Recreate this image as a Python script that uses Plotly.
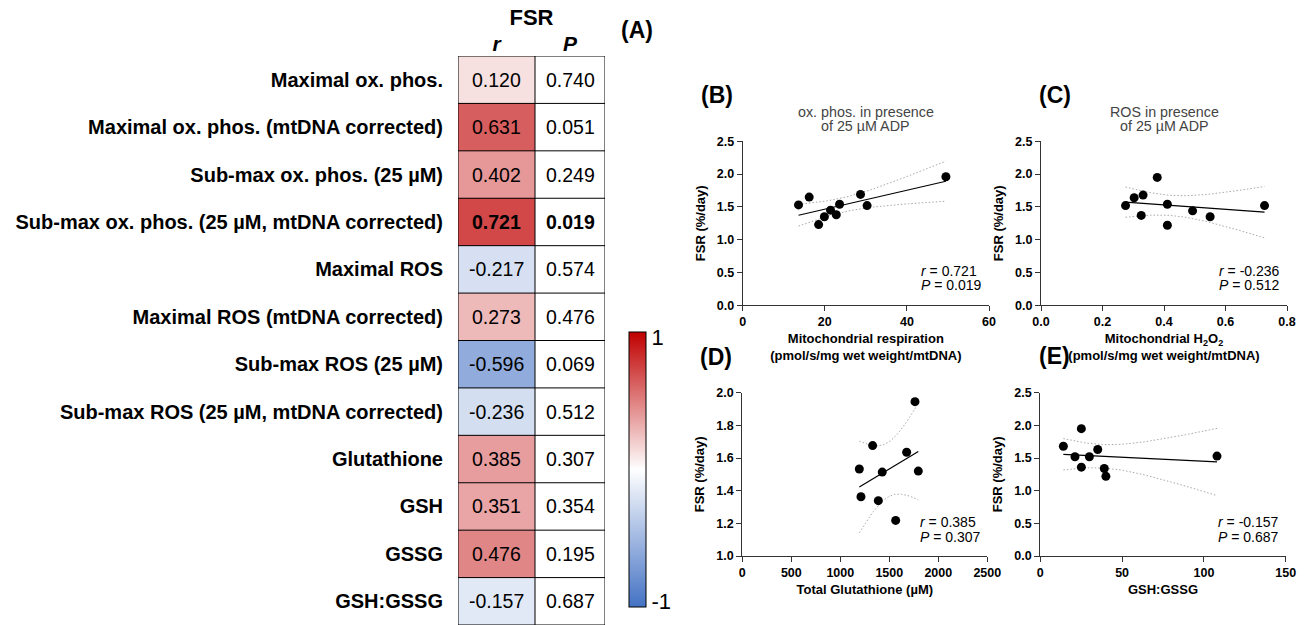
import numpy as np
import plotly.graph_objects as go

# ---------------- data ----------------
row_labels = [
    "Maximal ox. phos.",
    "Maximal ox. phos. (mtDNA corrected)",
    "Sub-max ox. phos. (25 µM)",
    "Sub-max ox. phos. (25 µM, mtDNA corrected)",
    "Maximal ROS",
    "Maximal ROS (mtDNA corrected)",
    "Sub-max ROS (25 µM)",
    "Sub-max ROS (25 µM, mtDNA corrected)",
    "Glutathione",
    "GSH",
    "GSSG",
    "GSH:GSSG",
]
r_values = [0.120, 0.631, 0.402, 0.721, -0.217, 0.273, -0.596, -0.236, 0.385, 0.351, 0.476, -0.157]
p_values = [0.740, 0.051, 0.249, 0.019, 0.574, 0.476, 0.069, 0.512, 0.307, 0.354, 0.195, 0.687]
significant = [False, False, False, True, False, False, False, False, False, False, False, False]

# Panel B: mitochondrial respiration vs FSR
b_x = [13.6, 16.2, 18.5, 19.9, 21.4, 22.8, 23.6, 28.7, 30.3, 49.5]
b_y = [1.53, 1.65, 1.23, 1.35, 1.45, 1.38, 1.54, 1.69, 1.52, 1.96]
# Panel C: mitochondrial H2O2 vs FSR
c_x = [0.275, 0.303, 0.332, 0.326, 0.378, 0.411, 0.411, 0.493, 0.550, 0.727]
c_y = [1.52, 1.64, 1.68, 1.37, 1.95, 1.54, 1.22, 1.44, 1.35, 1.52]
# Panel D: total glutathione vs FSR
d_x = [1194, 1211, 1330, 1388, 1428, 1565, 1677, 1762, 1796]
d_y = [1.533, 1.363, 1.676, 1.339, 1.514, 1.218, 1.635, 1.945, 1.520]
# Panel E: GSH:GSSG vs FSR
e_x = [14.1, 21.2, 25.1, 25.1, 30.0, 35.1, 39.1, 40.1, 108.0]
e_y = [1.68, 1.52, 1.95, 1.36, 1.52, 1.63, 1.34, 1.22, 1.53]

stats_text = {
    "B": ("0.721", "0.019"),
    "C": ("-0.236", "0.512"),
    "D": ("0.385", "0.307"),
    "E": ("-0.157", "0.687"),
}

# two-sided 95% t critical values by degrees of freedom
t_crit = {7: 2.365, 8: 2.306}

FONT = "Liberation Sans, Arial, Helvetica, sans-serif"
W, H = 1309, 625


def px_x(p):
    return p / W


def px_y(p):
    return 1 - p / H


fig = go.Figure()

# ---------------- table (A) ----------------
col_r_w, col_p_w = 77, 70
n_rows = len(row_labels)
y_edges = list(range(n_rows + 1))

fig.add_trace(go.Heatmap(
    z=[[v] for v in r_values], x=[0, col_r_w], y=y_edges,
    zmin=-1, zmax=1,
    colorscale=[[0, "rgb(68,114,196)"], [0.5, "rgb(255,255,255)"], [1, "rgb(192,0,0)"]],
    xaxis="x", yaxis="y", hoverinfo="skip",
    colorbar=dict(
        x=px_x(629), xanchor="left", y=px_y(469.5), yanchor="middle",
        len=275 / H, lenmode="fraction", thickness=17, xpad=0, ypad=0,
        outlinewidth=1, outlinecolor="black",
        tickvals=[-0.96, 0.96], ticktext=["-1", "1"], ticks="",
        tickfont=dict(family=FONT, size=22, color="black"),
    ),
))
fig.add_trace(go.Heatmap(
    z=[[v] for v in p_values], x=[col_r_w, col_r_w + col_p_w], y=y_edges,
    colorscale=[[0, "white"], [1, "white"]], showscale=False,
    xaxis="x", yaxis="y", hoverinfo="skip",
))

shapes = []
for i in range(n_rows + 1):
    shapes.append(dict(type="line", xref="x", yref="y", x0=0, x1=col_r_w + col_p_w, y0=i, y1=i,
                       line=dict(color="black", width=1), layer="above"))
for xv in [0, col_r_w, col_r_w + col_p_w]:
    shapes.append(dict(type="line", xref="x", yref="y", x0=xv, x1=xv, y0=0, y1=n_rows,
                       line=dict(color="black", width=1), layer="above"))

annotations = []
for i, (rv, pv, sig) in enumerate(zip(r_values, p_values, significant)):
    rt = f"{rv:.3f}"
    pt = f"{pv:.3f}"
    if sig:
        rt, pt = f"<b>{rt}</b>", f"<b>{pt}</b>"
    annotations.append(dict(x=col_r_w / 2, y=i + 0.5, xref="x", yref="y", text=rt, showarrow=False,
                            font=dict(family=FONT, size=19.5, color="black")))
    annotations.append(dict(x=col_r_w + col_p_w / 2, y=i + 0.5, xref="x", yref="y", text=pt, showarrow=False,
                            font=dict(family=FONT, size=19.5, color="black")))

fig.update_layout(
    xaxis=dict(domain=[px_x(458), px_x(605)], range=[0, col_r_w + col_p_w], side="top",
               tickvals=[col_r_w / 2, col_r_w + col_p_w / 2],
               ticktext=["<b><i>r</i></b>", "<b><i>P</i></b>"], ticks="",
               tickfont=dict(family=FONT, size=21, color="black"),
               showgrid=False, zeroline=False, showline=False, fixedrange=True, automargin=False,
               title=dict(text="<b>FSR</b>", font=dict(family=FONT, size=22, color="black"), standoff=0)),
    yaxis=dict(domain=[px_y(625), px_y(56)], range=[n_rows, 0],
               tickvals=[i + 0.5 for i in range(n_rows)], ticktext=row_labels, ticks="",
               tickfont=dict(family=FONT, size=20, color="black", weight="bold"),
               ticklabelstandoff=14, automargin=False,
               showgrid=False, zeroline=False, showline=False, fixedrange=True),
)

# ---------------- scatter panels ----------------
panels = [
    dict(key="B", xs=b_x, ys=b_y, ax="2", xdom=(742.7, 989), ydom=(141.3, 305.3),
         xr=[0, 60], xt=[0, 20, 40, 60], xfmt="d", yr=[0, 2.5], yt=[0, 0.5, 1.0, 1.5, 2.0, 2.5],
         xtitle="Mitochondrial respiration<br>(pmol/s/mg wet weight/mtDNA)",
         title=["ox. phos. in presence", "of 25 µM ADP"], lab=(717, 95)),
    dict(key="C", xs=c_x, ys=c_y, ax="3", xdom=(1041, 1287), ydom=(141.3, 305.3),
         xr=[0, 0.8], xt=[0, 0.2, 0.4, 0.6, 0.8], xfmt=".1f", yr=[0, 2.5], yt=[0, 0.5, 1.0, 1.5, 2.0, 2.5],
         xtitle="Mitochondrial H<sub>2</sub>O<sub>2</sub><br>(pmol/s/mg wet weight/mtDNA)",
         title=["ROS in presence", "of 25 µM ADP"], lab=(1055, 95)),
    dict(key="D", xs=d_x, ys=d_y, ax="4", xdom=(742.3, 987.3), ydom=(392.7, 556),
         xr=[0, 2500], xt=[0, 500, 1000, 1500, 2000, 2500], xfmt="d", yr=[1.0, 2.0],
         yt=[1.0, 1.2, 1.4, 1.6, 1.8, 2.0],
         xtitle="Total Glutathione (µM)", title=None, lab=(716, 357)),
    dict(key="E", xs=e_x, ys=e_y, ax="5", xdom=(1040.3, 1285.7), ydom=(392.7, 556),
         xr=[0, 150], xt=[0, 50, 100, 150], xfmt="d", yr=[0, 2.5], yt=[0, 0.5, 1.0, 1.5, 2.0, 2.5],
         xtitle="GSH:GSSG", title=None, lab=(1054, 356)),
]

tick_font = dict(family=FONT, size=12.5, color="black", weight="bold")
title_font = dict(family=FONT, size=13, color="black", weight="bold")

for p in panels:
    xs = np.array(p["xs"], dtype=float)
    ys = np.array(p["ys"], dtype=float)
    n = len(xs)
    slope, intercept = np.polyfit(xs, ys, 1)
    xm = xs.mean()
    sxx = ((xs - xm) ** 2).sum()
    resid = ys - (slope * xs + intercept)
    s = np.sqrt((resid ** 2).sum() / (n - 2))
    xl = np.linspace(xs.min(), xs.max(), 60)
    yl = slope * xl + intercept
    half = t_crit[n - 2] * s * np.sqrt(1 / n + (xl - xm) ** 2 / sxx)

    xa, ya = "x" + p["ax"], "y" + p["ax"]
    for band in (yl + half, yl - half):
        fig.add_trace(go.Scatter(x=xl, y=band, mode="lines", xaxis=xa, yaxis=ya,
                                 line=dict(color="#a8a8a8", width=1, dash="1.5px,2px"),
                                 showlegend=False, hoverinfo="skip"))
    fig.add_trace(go.Scatter(x=xl, y=yl, mode="lines", xaxis=xa, yaxis=ya,
                             line=dict(color="black", width=1.2), showlegend=False, hoverinfo="skip"))
    fig.add_trace(go.Scatter(x=xs, y=ys, mode="markers", xaxis=xa, yaxis=ya,
                             marker=dict(color="black", size=9), showlegend=False, cliponaxis=False))

    fig.update_layout({
        "xaxis" + p["ax"]: dict(
            domain=[px_x(p["xdom"][0]), px_x(p["xdom"][1])], anchor=ya, range=p["xr"],
            tickvals=p["xt"], tickformat=p["xfmt"], ticks="outside", ticklen=5, tickwidth=1.2,
            tickcolor="#333333", showline=True, linecolor="#333333", linewidth=1.2,
            showgrid=False, zeroline=False, tickfont=tick_font, automargin=False,
            title=dict(text=p["xtitle"], font=title_font, standoff=5),
        ),
        "yaxis" + p["ax"]: dict(
            domain=[px_y(p["ydom"][1]), px_y(p["ydom"][0])], anchor=xa, range=p["yr"],
            tickvals=p["yt"], tickformat=".1f", ticks="outside", ticklen=5, tickwidth=1.2,
            tickcolor="#333333", showline=True, linecolor="#333333", linewidth=1.2,
            showgrid=False, zeroline=False, tickfont=tick_font, automargin=False,
            title=dict(text="FSR (%/day)", font=title_font, standoff=8),
        ),
    })

    rt, pt = stats_text[p["key"]]
    annotations.append(dict(x=0.716, y=0.209 if p["key"] in "BC" else 0.206,
                            xref=xa + " domain", yref=ya + " domain",
                            text=f"<i>r</i> = {rt}", showarrow=False, xanchor="left", yanchor="middle",
                            font=dict(family=FONT, size=14, color="black")))
    annotations.append(dict(x=0.716, y=0.124 if p["key"] in "BC" else 0.118,
                            xref=xa + " domain", yref=ya + " domain",
                            text=f"<i>P</i> = {pt}", showarrow=False, xanchor="left", yanchor="middle",
                            font=dict(family=FONT, size=14, color="black")))
    if p["title"]:
        cx = px_x((p["xdom"][0] + p["xdom"][1]) / 2)
        for j, line in enumerate(p["title"]):
            annotations.append(dict(x=cx, y=px_y(112 + 14 * j), xref="paper", yref="paper",
                                    text=line, showarrow=False, xanchor="center", yanchor="middle",
                                    font=dict(family=FONT, size=14.3, color="#444444")))
    annotations.append(dict(x=px_x(p["lab"][0]), y=px_y(p["lab"][1]), xref="paper", yref="paper",
                            text=f"<b>({p['key']})</b>", showarrow=False, xanchor="center", yanchor="middle",
                            font=dict(family=FONT, size=23, color="black")))

annotations.append(dict(x=px_x(637), y=px_y(30), xref="paper", yref="paper",
                        text="<b>(A)</b>", showarrow=False, xanchor="center", yanchor="middle",
                        font=dict(family=FONT, size=23, color="black")))

fig.update_layout(
    width=W, height=H, margin=dict(l=0, r=0, t=0, b=0, autoexpand=False),
    paper_bgcolor="white", plot_bgcolor="white",
    shapes=shapes, annotations=annotations, showlegend=False,
    font=dict(family=FONT, color="black"),
)

fig.write_html(
    "out.html",
    config={"displayModeBar": False},
    post_script="document.body.style.margin='0';document.body.style.padding='0';document.body.style.overflow='hidden';",
)
